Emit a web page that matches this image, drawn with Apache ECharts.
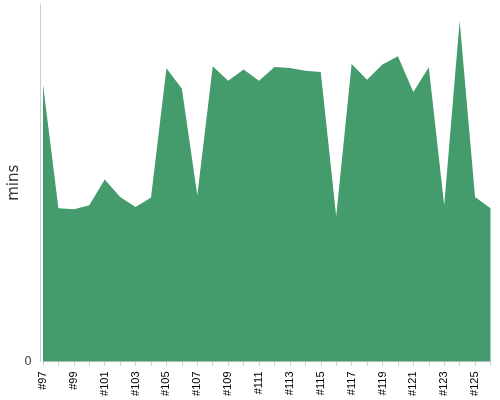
<!DOCTYPE html>
<html><head><meta charset="utf-8">
<script src="https://cdn.jsdelivr.net/npm/echarts@6/dist/echarts.min.js"></script>
<style>html,body{margin:0;padding:0;background:#fff}#c{width:500px;height:400px}</style>
</head><body><div id="c"></div>
<script>
var categories = ['#97','#98','#99','#100','#101','#102','#103','#104','#105','#106','#107','#108','#109','#110','#111','#112','#113','#114','#115','#116','#117','#118','#119','#120','#121','#122','#123','#124','#125','#126'];
var mins = [77.5,42.9,42.6,43.7,50.9,46.0,43.2,45.9,82.0,76.3,46.5,82.6,78.5,81.7,78.5,82.4,82.1,81.3,81.0,40.6,83.2,78.8,83.1,85.4,75.4,82.3,43.7,95.3,46.0,42.9];
var yTicks = [0, 100];

var chart = echarts.init(document.getElementById('c'), null, {renderer:'canvas'});
chart.setOption({
  animation: false,
  grid: {left: 43, right: 9.5, top: 4, bottom: 38.5, containLabel: false, outerBoundsMode: 'none'},
  xAxis: {
    type: 'category', data: categories, boundaryGap: false, offset: 4,
    axisLine: {lineStyle: {color: '#ccc'}},
    axisTick: {show: true, interval: 0, length: 4, lineStyle: {color: '#ccc'}},
    axisLabel: {interval: 1, rotate: 90, fontSize: 11, color: '#000', margin: 6, fontFamily: 'Liberation Sans'}
  },
  yAxis: {
    type: 'value', min: yTicks[0], max: yTicks[1], interval: 100, offset: 3,
    name: 'mins', nameLocation: 'middle', nameGap: 18, nameMoveOverlap: false,
    nameTextStyle: {fontSize: 15, color: '#333', fontFamily: 'DejaVu Sans'},
    axisLine: {show: true, lineStyle: {color: '#ccc'}},
    axisTick: {show: false},
    splitLine: {show: false},
    axisLabel: {showMaxLabel: false, fontSize: 12, color: '#444', margin: 8, fontFamily: 'DejaVu Sans'}
  },
  series: [{
    type: 'line', data: mins, symbol: 'none',
    lineStyle: {width: 0},
    areaStyle: {color: '#449c6c', opacity: 1}
  }]
});
</script></body></html>
